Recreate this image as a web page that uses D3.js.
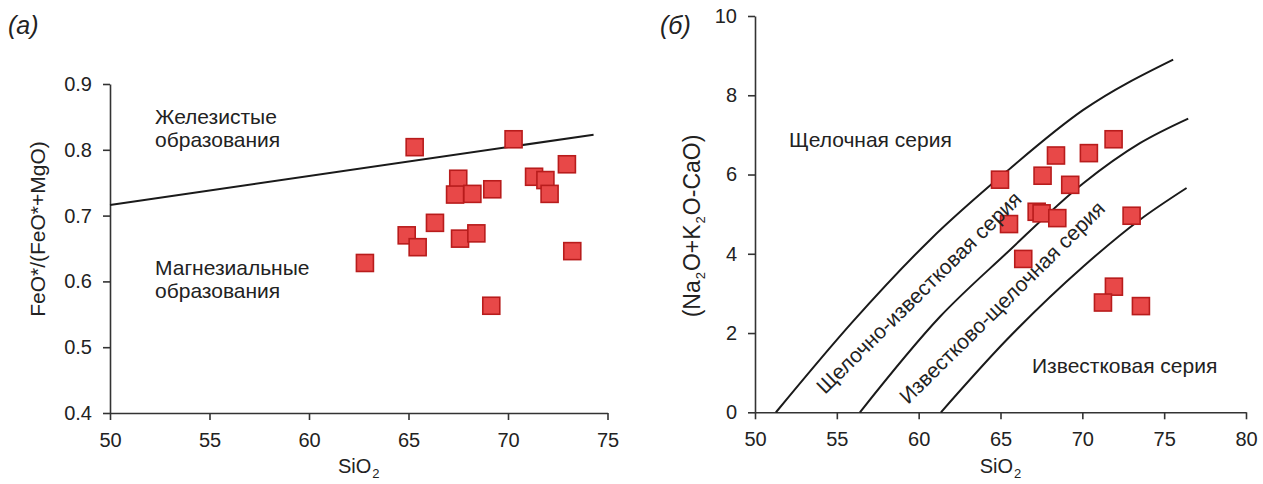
<!DOCTYPE html>
<html>
<head>
<meta charset="utf-8">
<script src="https://cdn.jsdelivr.net/npm/d3@7"></script>
<style>
  body { margin: 0; background: #fff; }
  svg { display: block; font-family: "Liberation Sans", Arial, sans-serif; }
  .axis path, .axis line { stroke: #333; stroke-width: 1.6; }
  .axis text { font-size: 20px; fill: #222; font-family: "Liberation Sans", Arial, sans-serif; }
</style>
</head>
<body>
<svg id="chart" width="1263" height="484"></svg>
<script>
// ---- Panel (а): Fe-index vs SiO2 ----
const feSiO2 = [65.31, 70.28, 67.50, 67.34, 68.21, 69.21, 71.31, 71.88, 72.09, 72.96, 66.33, 64.91, 65.46, 67.59, 68.41, 62.81, 73.23, 69.16];
const feIndex = [0.804, 0.816, 0.756, 0.732, 0.733, 0.740, 0.759, 0.754, 0.733, 0.778, 0.689, 0.670, 0.652, 0.665, 0.673, 0.628, 0.646, 0.563];
const feBoundarySiO2 = [50, 74.3];
const feBoundaryIndex = [0.716, 0.823];
const feXTicks = [50, 55, 60, 65, 70, 75];
const feYTicks = [0.4, 0.5, 0.6, 0.7, 0.8, 0.9];

// ---- Panel (б): MALI vs SiO2 ----
const maliSiO2 = [64.97, 65.52, 67.57, 68.39, 70.40, 71.91, 69.26, 67.21, 67.51, 68.47, 73.01, 66.39, 71.93, 71.26, 73.58];
const maliValue = [5.87, 4.75, 5.97, 6.48, 6.54, 6.89, 5.74, 5.06, 5.02, 4.90, 4.96, 3.87, 3.17, 2.77, 2.68];
// boundary curves between series
const alkalicSiO2 = [51.28, 56.0, 60.69, 65.38, 70.06, 75.55];
const alkalicMali = [0, 2.3, 4.35, 6.08, 7.63, 8.90];
const alkaliCalcicSiO2 = [56.41, 61.30, 65.38, 70.06, 73.52, 76.47];
const alkaliCalcicMali = [0, 2.41, 4.02, 5.78, 6.79, 7.41];
const calcAlkalicSiO2 = [61.36, 65.38, 70.06, 73.52, 76.37];
const calcAlkalicMali = [0, 1.83, 3.68, 4.86, 5.66];
const maliXTicks = [50, 55, 60, 65, 70, 75, 80];
const maliYTicks = [0, 2, 4, 6, 8, 10];

const svg = d3.select("#chart");
const MARK = 17;
const FILL = "#e84848";
const STROKE = "#b81c1c";
const LABEL_SIZE = 21;

function subscriptLabel(sel, parts, size) {
  parts.forEach(p => {
    if (p.sub) {
      sel.append("tspan").attr("font-size", 13).attr("dy", 5).attr("dx", 1).text(p.t);
    } else {
      sel.append("tspan").attr("font-size", size).attr("dy", p.after ? -5 : 0).attr("dx", p.after ? 1 : 0).text(p.t);
    }
  });
}

function drawSquares(g, xs, ys, x, y) {
  g.selectAll("rect.pt").data(xs.map((v, i) => [v, ys[i]])).join("rect")
    .attr("class", "pt")
    .attr("x", d => x(d[0]) - MARK / 2)
    .attr("y", d => y(d[1]) - MARK / 2)
    .attr("width", MARK).attr("height", MARK)
    .attr("fill", FILL).attr("stroke", STROKE).attr("stroke-width", 1.6);
}

// Panel (а)
{
  const x = d3.scaleLinear().domain([50, 75]).range([110, 607.5]);
  const y = d3.scaleLinear().domain([0.4, 0.9]).range([413, 84]);
  const g = svg.append("g");

  g.append("g").attr("class", "axis").attr("transform", "translate(0,413)")
    .call(d3.axisBottom(x).tickValues(feXTicks).tickSize(7).tickPadding(13).tickSizeOuter(0));
  g.append("g").attr("class", "axis").attr("transform", "translate(110,0)")
    .call(d3.axisLeft(y).tickValues(feYTicks).tickFormat(d3.format(".1f")).tickSize(7).tickPadding(11).tickSizeOuter(0));

  g.append("path")
    .datum(feBoundarySiO2.map((v, i) => [v, feBoundaryIndex[i]]))
    .attr("d", d3.line().x(d => x(d[0])).y(d => y(d[1])))
    .attr("fill", "none").attr("stroke", "#1a1a1a").attr("stroke-width", 2);

  drawSquares(g, feSiO2, feIndex, x, y);

  const txt = (tx, ty, s) => g.append("text").attr("x", tx).attr("y", ty)
    .attr("font-size", LABEL_SIZE).attr("fill", "#222").text(s);
  txt(155, 124, "Железистые");
  txt(155, 147, "образования");
  txt(155, 275, "Магнезиальные");
  txt(155, 298, "образования");

  g.append("text").attr("x", 8).attr("y", 34).attr("font-size", 25)
    .attr("font-style", "italic").attr("fill", "#222").text("(а)");

  g.append("text").attr("transform", "translate(45,229) rotate(-90)")
    .attr("text-anchor", "middle").attr("font-size", LABEL_SIZE).attr("fill", "#222")
    .text("FeO*/(FeO*+MgO)");

  const xl = g.append("text").attr("x", x(62.5)).attr("y", 473)
    .attr("text-anchor", "middle").attr("fill", "#222");
  subscriptLabel(xl, [{t: "SiO"}, {t: "2", sub: true}], 20);
}

// Panel (б)
{
  const x = d3.scaleLinear().domain([50, 80]).range([755, 1246]);
  const y = d3.scaleLinear().domain([0, 10]).range([412.3, 16]);
  const g = svg.append("g");

  g.append("g").attr("class", "axis").attr("transform", "translate(0,412.3)")
    .call(d3.axisBottom(x).tickValues(maliXTicks).tickSize(7).tickPadding(13).tickSizeOuter(0));
  g.append("g").attr("class", "axis").attr("transform", "translate(755,0)")
    .call(d3.axisLeft(y).tickValues(maliYTicks).tickSize(7).tickPadding(11).tickSizeOuter(0));

  const line = d3.line().x(d => x(d[0])).y(d => y(d[1])).curve(d3.curveMonotoneX);
  [[alkalicSiO2, alkalicMali], [alkaliCalcicSiO2, alkaliCalcicMali], [calcAlkalicSiO2, calcAlkalicMali]]
    .forEach(([xs, ys]) => {
      g.append("path").datum(xs.map((v, i) => [v, ys[i]]))
        .attr("d", line).attr("fill", "none").attr("stroke", "#1a1a1a").attr("stroke-width", 2);
    });

  drawSquares(g, maliSiO2, maliValue, x, y);

  const txt = (tx, ty, s) => g.append("text").attr("x", tx).attr("y", ty)
    .attr("font-size", LABEL_SIZE).attr("fill", "#222").text(s);
  txt(789, 147, "Щелочная серия");
  txt(1032, 373, "Известковая серия");

  g.append("text").attr("transform", "translate(825,395) rotate(-44.5)")
    .attr("font-size", LABEL_SIZE).attr("fill", "#222").text("Щелочно-известковая серия");
  g.append("text").attr("transform", "translate(908,405) rotate(-44.5)")
    .attr("font-size", LABEL_SIZE).attr("fill", "#222").text("Известково-щелочная серия");

  g.append("text").attr("x", 660).attr("y", 34).attr("font-size", 25)
    .attr("font-style", "italic").attr("fill", "#222").text("(б)");

  const yl = g.append("text").attr("transform", "translate(700,226) rotate(-90)")
    .attr("text-anchor", "middle").attr("fill", "#222");
  subscriptLabel(yl, [{t: "(Na"}, {t: "2", sub: true}, {t: "O+K", after: true}, {t: "2", sub: true}, {t: "O-CaO)", after: true}], 23);

  const xl = g.append("text").attr("x", x(65)).attr("y", 473)
    .attr("text-anchor", "middle").attr("fill", "#222");
  subscriptLabel(xl, [{t: "SiO"}, {t: "2", sub: true}], 20);
}
</script>
</body>
</html>
